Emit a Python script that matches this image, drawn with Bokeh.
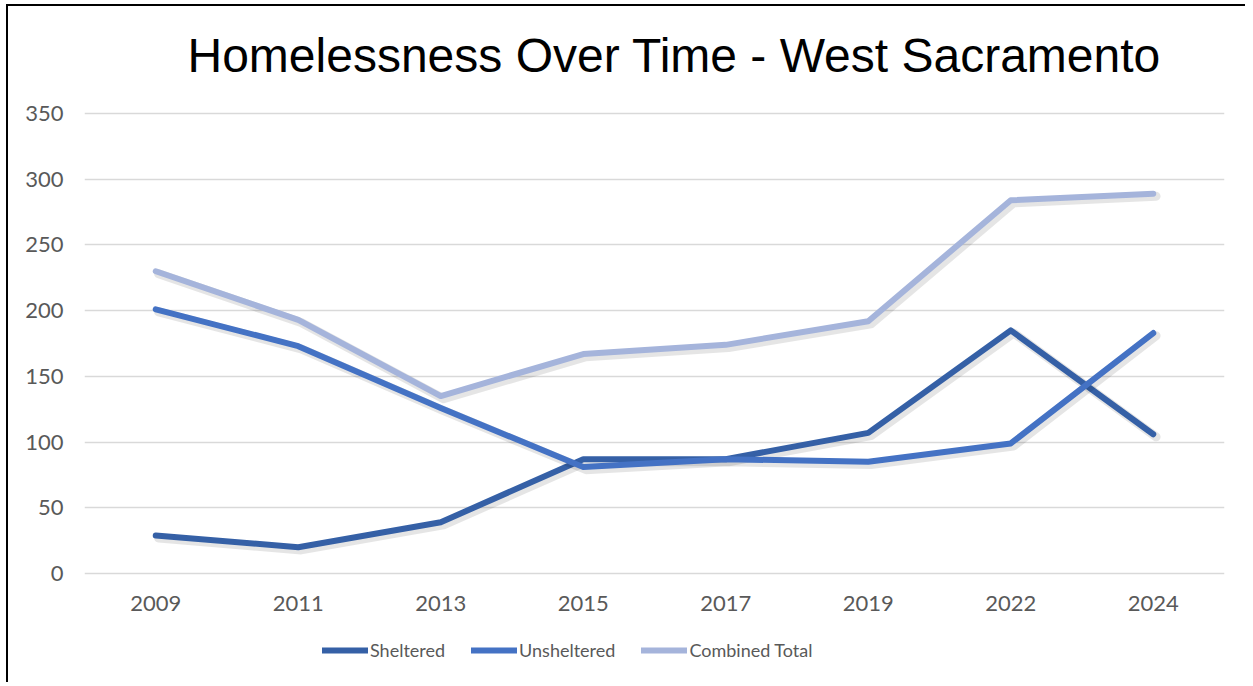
from bokeh.plotting import figure
from bokeh.models import ColumnDataSource, Legend, LegendItem, Label, FixedTicker
from bokeh.transform import dodge
from bokeh.embed import file_html
from bokeh.resources import INLINE

title_text = "Homelessness Over Time - West Sacramento"
years = ["2009", "2011", "2013", "2015", "2017", "2019", "2022", "2024"]
sheltered = [29, 20, 39, 87, 87, 107, 185, 106]
unsheltered = [201, 173, 126, 81, 87, 85, 99, 183]
combined = [230, 193, 135, 167, 174, 192, 284, 289]
y_ticks = [0, 50, 100, 150, 200, 250, 300, 350]

series = [("Sheltered", sheltered, "#3560A6"),
          ("Unsheltered", unsheltered, "#4472C4"),
          ("Combined Total", combined, "#A5B4DB")]

# the frame spans the whole canvas height; title, category labels and legend sit inside it
p = figure(x_range=years, y_range=(-76.8, 431.4), width=1239, height=678,
           output_backend="svg", toolbar_location=None,
           min_border_left=76, min_border_right=23,
           min_border_top=0, min_border_bottom=10)
p.outline_line_color = None
p.background_fill_color = "white"
p.border_fill_color = "white"

p.xgrid.grid_line_color = None
p.ygrid.grid_line_color = "#D9D9D9"
p.ygrid.grid_line_width = 1.5
p.yaxis.ticker = FixedTicker(ticks=y_ticks)
p.xaxis.fixed_location = 0
for ax in (p.xaxis, p.yaxis):
    ax.axis_line_color = None
    ax.major_tick_line_color = None
    ax.minor_tick_line_color = None
    ax.major_label_text_font = "Lato"
    ax.major_label_text_font_size = "22px"
    ax.major_label_text_color = "#595959"
p.yaxis.major_label_standoff = 15
p.xaxis.major_label_standoff = 16

items = []
for name, vals, color in series:
    shadow_vals = [v - 2.0 for v in vals]
    src = ColumnDataSource(dict(x=years, y=vals, ys=shadow_vals))
    p.line(x=dodge("x", 0.02, range=p.x_range), y="ys", source=src,
           line_color="black", line_alpha=0.10, line_width=9,
           line_join="round", line_cap="round")
    r = p.line(x="x", y="y", source=src, line_color=color, line_width=6,
               line_join="round", line_cap="round")
    items.append(LegendItem(label=name, renderers=[r]))

legend = Legend(items=items, orientation="horizontal", location=(238, 13),
                glyph_width=46, glyph_height=20, label_standoff=2, spacing=26,
                padding=0, margin=0, background_fill_alpha=0,
                border_line_color=None,
                label_text_font="Lato", label_text_font_size="18px",
                label_text_color="#595959")
p.add_layout(legend, "center")

title = Label(text=title_text, x=103, y=619, x_units="screen", y_units="screen",
              text_font="Liberation Sans", text_font_size="48px",
              text_color="black", text_baseline="alphabetic", text_align="left")
p.add_layout(title)

p.styles = {"margin-left": "8px", "margin-top": "6px",
            "box-shadow": "-2px -2px 0 0 #000000"}

open("out.html", "w").write(file_html(p, INLINE))
